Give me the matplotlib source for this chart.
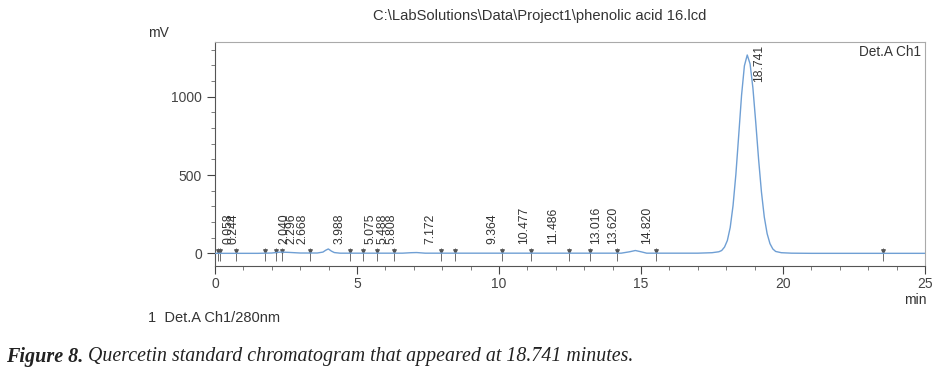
import matplotlib.pyplot as plt
from matplotlib.ticker import MultipleLocator

plt.rcParams['font.family'] = ['Liberation Sans', 'DejaVu Sans']

# detector trace (min, mV)
trace_time = [0.0, 1.5, 2.0, 2.3, 2.6, 3.0, 3.6, 3.8, 3.9, 3.99, 4.1, 4.2, 4.4,
              6.6, 6.9, 7.1, 7.4, 14.3, 14.6, 14.8, 15.0, 15.2, 17.0, 17.5,
              17.74, 17.84, 17.94, 18.04, 18.14, 18.24, 18.34, 18.44, 18.54, 18.64,
              18.74, 18.84, 18.94, 19.04, 19.14, 19.24, 19.34, 19.44, 19.54, 19.64,
              19.74, 19.94, 20.3, 21.0, 25.0]
trace_mv = [0, 0, 2, 8, 6, 2, 2, 8, 20, 28, 14, 5, 1,
            1, 4, 5, 1, 1, 10, 18, 10, 1, 1, 4,
            10, 18, 40, 82, 165, 305, 505, 755, 1010, 1198,
            1267, 1210, 1055, 835, 600, 392, 232, 126, 62, 28,
            12, 4, 1, 0, 0]

# peak retention times as labelled
peak_times = [0.058, 0.244, 2.040, 2.296, 2.668, 3.988, 5.075, 5.488, 5.808,
              7.172, 9.364, 10.477, 11.486, 13.016, 13.620, 14.820, 18.741]
peak_labels = ['0.058', '0.244', '2.040', '2.296', '2.668', '3.988', '5.075', '5.488', '5.808',
               '7.172', '9.364', '10.477', '11.486', '13.016', '13.620', '14.820', '18.741']

# integration start / stop marks on the baseline
event_times = [0.12, 0.16, 0.73, 1.76, 2.16, 2.37, 3.34, 4.75, 5.22, 5.70, 6.29,
               7.96, 8.46, 10.10, 11.13, 12.48, 13.21, 14.15, 15.54, 23.51]

fig = plt.figure(figsize=(9.34, 3.81), dpi=100)
ax = fig.add_axes([0.2302, 0.3018, 0.7602, 0.588])

ax.plot(trace_time, trace_mv, color='#6f9fd4', lw=1.0, zorder=3)
ax.vlines(event_times, -50, 35, color='#555555', lw=0.6, zorder=2)
ax.scatter(event_times, [12] * len(event_times), marker='v', s=6, color='#555555', zorder=2)

for t, lab in zip(peak_times, peak_labels):
    if t > 18:
        ax.text(t + 0.22, 1330, lab, rotation=90, ha='left', va='top', fontsize=8.7, color='#333333')
    else:
        ax.text(t + 0.2, 62, lab, rotation=90, ha='left', va='bottom', fontsize=8.7, color='#333333')

ax.set_xlim(0, 25)
ax.set_ylim(-81, 1350)
ax.xaxis.set_major_locator(MultipleLocator(5))
ax.xaxis.set_minor_locator(MultipleLocator(1))
ax.yaxis.set_major_locator(MultipleLocator(500))
ax.yaxis.set_minor_locator(MultipleLocator(100))
ax.tick_params(axis='both', which='major', labelsize=10, colors='#444444', length=6, width=0.8)
ax.tick_params(axis='both', which='minor', length=3, width=0.6, colors='#666666')
ax.tick_params(axis='x', pad=2)
for side in ['top', 'right']:
    ax.spines[side].set_color('#aaaaaa')
    ax.spines[side].set_linewidth(0.8)
for side in ['left', 'bottom']:
    ax.spines[side].set_color('#555555')
    ax.spines[side].set_linewidth(0.8)

ax.text(0.995, 0.985, 'Det.A Ch1', transform=ax.transAxes, ha='right', va='top',
        fontsize=9.8, color='#333333')

fig.text(0.578, 0.958, r'C:\LabSolutions\Data\Project1\phenolic acid 16.lcd',
         ha='center', va='center', fontsize=10.6, color='#333333')
fig.text(0.170, 0.913, 'mV', ha='center', va='center', fontsize=10, color='#333333')
fig.text(0.980, 0.212, 'min', ha='center', va='center', fontsize=10, color='#333333')
fig.text(0.158, 0.165, '1  Det.A Ch1/280nm', ha='left', va='center', fontsize=10.5, color='#333333')

# caption: bold italic figure number, then italic text right after it
cap1 = fig.text(0.006, 0.063, 'Figure 8.', ha='left', va='center', fontsize=14.5,
                family='Liberation Serif', style='italic', weight='bold', color='#222222')
fig.canvas.draw()
bb = cap1.get_window_extent()
x_next = (bb.x1 + 5) / fig.bbox.width
fig.text(x_next, 0.063, 'Quercetin standard chromatogram that appeared at 18.741 minutes.',
         ha='left', va='center', fontsize=14.3, family='Liberation Serif', style='italic',
         color='#222222')

fig.savefig('out.png', dpi=100)
